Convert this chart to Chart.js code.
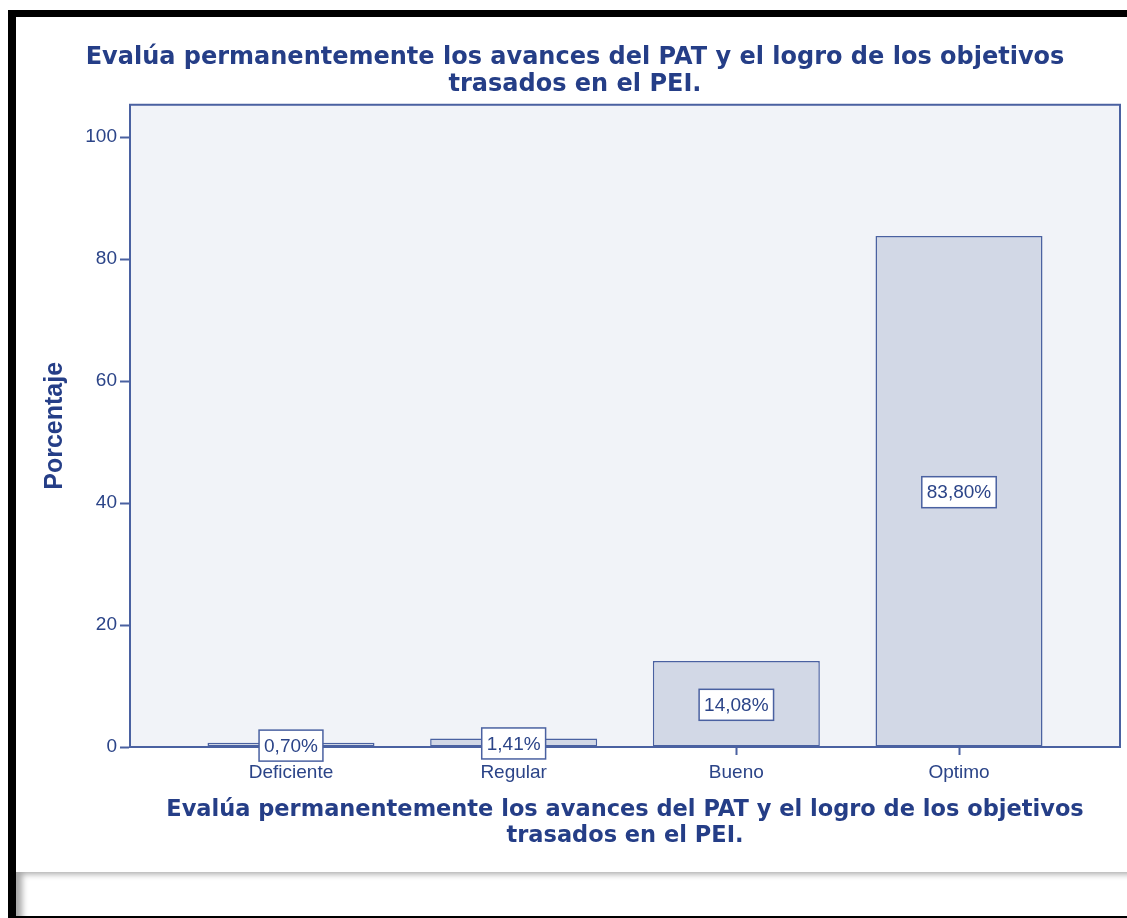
<!DOCTYPE html>
<html>
<head>
<meta charset="utf-8">
<script src="https://cdn.jsdelivr.net/npm/chart.js@4.4.1/dist/chart.umd.min.js"></script>
<style>
html, body { margin: 0; padding: 0; background: #fff; }
#wrap { position: relative; width: 1127px; height: 918px; overflow: hidden; }
#frame { position: absolute; left: 8px; top: 10px; width: 1200px; height: 908px; box-sizing: border-box;
         border-top: 7px solid #000; border-left: 8px solid #000; border-bottom: 2px solid #000; }
#footer { position: absolute; left: 16px; top: 872px; width: 1200px; height: 44px;
          box-shadow: inset 9px 5px 6px -3px rgba(0,0,0,0.35); }
canvas { position: absolute; left: 0; top: 0; }
</style>
</head>
<body>
<div id="wrap">
  <div id="frame"></div>
  <div id="footer"></div>
  <canvas id="chart" width="1127" height="918"></canvas>
</div>
<script>
// --- data ---
const categories = ['Deficiente', 'Regular', 'Bueno', 'Optimo'];
const percentages = [0.70, 1.41, 14.08, 83.80];
const yTickValues = [0, 20, 40, 60, 80, 100];
const chartTitle = ['Evalúa permanentemente los avances del PAT y el logro de los objetivos', 'trasados en el PEI.'];
const xAxisTitle = ['Evalúa permanentemente los avances del PAT y el logro de los objetivos', 'trasados en el PEI.'];
const yAxisTitle = 'Porcentaje';

const axisColor = '#4a61a1';
const textColor = '#2b4488';
const titleColor = '#253e87';
const plotBg = '#f1f3f8';
const barFill = '#d2d8e6';

Chart.defaults.font.family = "'Liberation Sans', Arial, sans-serif";
Chart.defaults.color = textColor;

// plot background + frame around the plot area
const plotFrame = {
    id: 'plotFrame',
    beforeDatasetsDraw(chart) {
        const { ctx, chartArea: a } = chart;
        ctx.save();
        ctx.fillStyle = plotBg;
        ctx.fillRect(a.left, a.top, a.right - a.left, a.bottom - a.top);
        ctx.restore();
    },
    afterDatasetsDraw(chart) {
        const { ctx, chartArea: a } = chart;
        ctx.save();
        ctx.strokeStyle = axisColor;
        ctx.lineWidth = 2;
        ctx.strokeRect(a.left, a.top, a.right - a.left, a.bottom - a.top);
        ctx.restore();
    }
};

// boxed percentage labels in the middle of each bar
const boxedLabels = {
    id: 'boxedLabels',
    afterDatasetsDraw(chart) {
        const { ctx } = chart;
        const meta = chart.getDatasetMeta(0);
        ctx.save();
        ctx.font = "19px 'Liberation Sans', Arial, sans-serif";
        ctx.textAlign = 'center';
        ctx.textBaseline = 'middle';
        meta.data.forEach((bar, i) => {
            const txt = percentages[i].toFixed(2).replace('.', ',') + '%';
            const w = ctx.measureText(txt).width + 10;
            const h = 31;
            const cy = (bar.y + bar.base) / 2 + 1;
            ctx.fillStyle = '#fff';
            ctx.fillRect(bar.x - w / 2, cy - h / 2, w, h);
            ctx.strokeStyle = axisColor;
            ctx.lineWidth = 1.5;
            ctx.strokeRect(bar.x - w / 2, cy - h / 2, w, h);
            ctx.fillStyle = textColor;
            ctx.fillText(txt, bar.x, cy + 1);
        });
        ctx.restore();
    }
};

new Chart(document.getElementById('chart'), {
    type: 'bar',
    data: {
        datasets: [{
            data: percentages.map((v, i) => ({ x: i, y: v })),
            backgroundColor: barFill,
            borderColor: axisColor,
            borderWidth: 1.5,
            borderSkipped: false,
            barPercentage: 0.75,
            categoryPercentage: 1
        }]
    },
    options: {
        responsive: false,
        animation: false,
        layout: { padding: { left: 30, right: 7, top: 0, bottom: 69 } },
        plugins: {
            legend: { display: false },
            tooltip: { enabled: false },
            title: {
                display: true,
                text: chartTitle,
                color: titleColor,
                font: { family: "'DejaVu Sans', Verdana, sans-serif", size: 24, weight: 'bold', lineHeight: 1.12 },
                padding: { top: 44, bottom: 7 }
            }
        },
        scales: {
            x: {
                type: 'linear',
                offset: false,
                min: -0.723,
                max: 3.723,
                afterBuildTicks: s => { s.ticks = categories.map((c, i) => ({ value: i })); },
                afterFit: s => { s.height = 102; },
                ticks: {
                    callback: v => categories[v],
                    font: { size: 19 },
                    color: textColor,
                    padding: 6,
                    maxRotation: 0,
                    autoSkip: false
                },
                grid: { offset: false, drawOnChartArea: false, tickLength: 8, tickColor: axisColor, tickWidth: 2 },
                border: { display: true, color: axisColor, width: 2 },
                title: {
                    display: true,
                    text: xAxisTitle,
                    color: titleColor,
                    font: { family: "'DejaVu Sans', Verdana, sans-serif", size: 22.5, weight: 'bold', lineHeight: 1.156 },
                    padding: { top: 0, bottom: 0 }
                }
            },
            y: {
                min: 0,
                max: 105.3,
                afterBuildTicks: s => { s.ticks = yTickValues.map(v => ({ value: v })); },
                afterFit: s => { s.width = 100; },
                ticks: { font: { size: 19 }, color: textColor, padding: 3 },
                grid: { drawOnChartArea: false, tickLength: 10, tickColor: axisColor, tickWidth: 2 },
                border: { display: true, color: axisColor, width: 2 },
                title: {
                    display: true,
                    text: yAxisTitle,
                    color: titleColor,
                    font: { size: 25, weight: 'bold', lineHeight: 1.2 },
                    padding: { top: 10, bottom: 0 }
                }
            }
        }
    },
    plugins: [plotFrame, boxedLabels]
});
</script>
</body>
</html>
